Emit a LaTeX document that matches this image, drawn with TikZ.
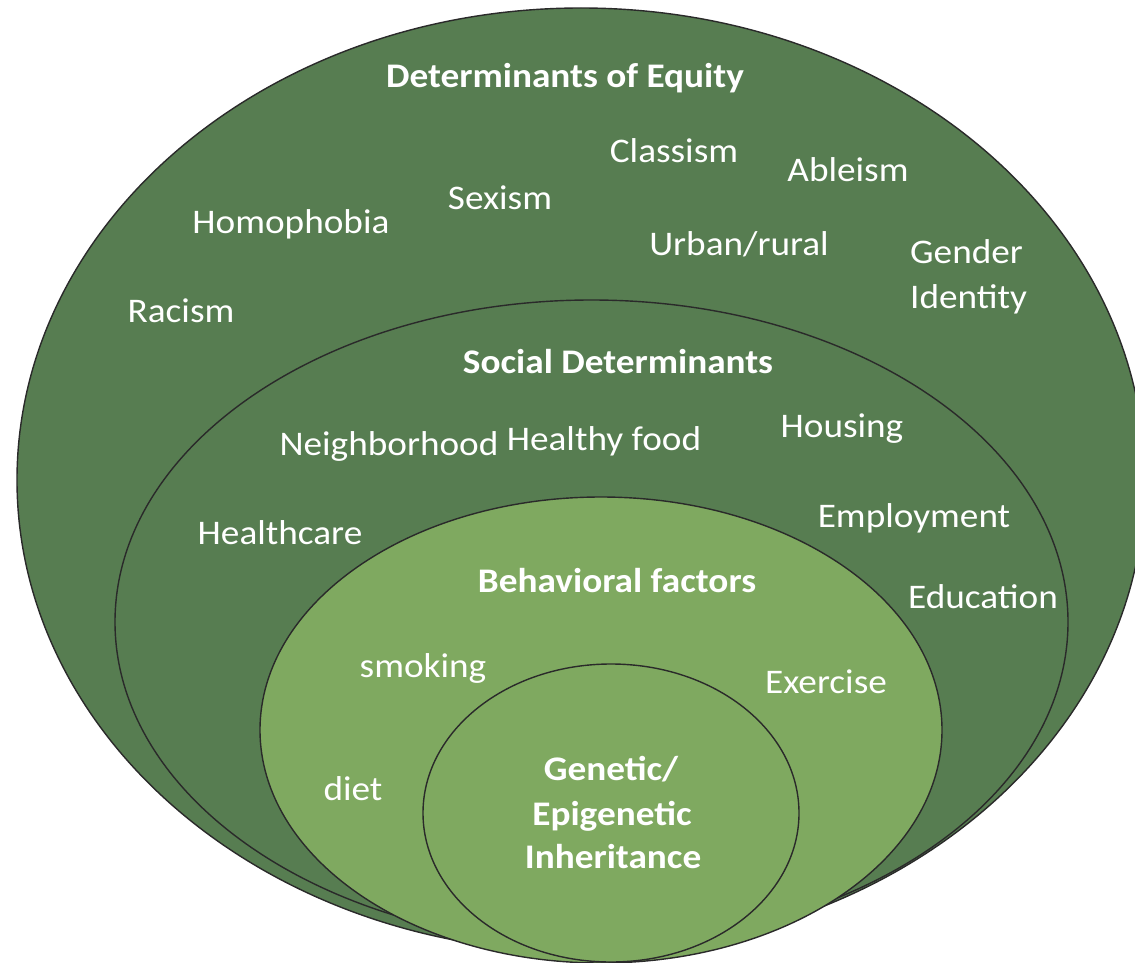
\documentclass[tikz,border=0pt]{standalone}
\usepackage{fontspec}
\setmainfont{Carlito}[FakeStretch=1.08]
\definecolor{darkg}{HTML}{577D51}
\definecolor{lightg}{HTML}{7FA960}
\definecolor{edgec}{HTML}{2A2A2A}
\begin{document}
\begin{tikzpicture}[x=1pt,y=-1pt,
  ring/.style={draw=edgec,line width=1.4pt},
  lbl/.style={text=white,inner sep=0pt,anchor=base,font=\fontsize{34.5}{41}\selectfont},
  lblw/.style={lbl,anchor=base west},
  ttl/.style={lbl,font=\fontsize{34.5}{41}\selectfont\bfseries}]
\useasboundingbox (0,0) rectangle (1135,963);
\clip (0,0) rectangle (1135,963);
\fill[white] (0,0) rectangle (1135,963);
% rings
\draw[ring,fill=darkg] (581,480) ellipse [x radius=564pt,y radius=472pt];
\draw[ring,fill=darkg] (591.5,622) ellipse [x radius=476.5pt,y radius=322pt];
\draw[ring,fill=lightg] (601,730) ellipse [x radius=341pt,y radius=233pt];
\draw[ring,fill=lightg] (611,813) ellipse [x radius=188pt,y radius=149pt];
% outer ring labels
\node[ttl] (equity) at (565,88) {Determinants of Equity};
\node[lbl] (classism) at (674,162) {Classism};
\node[lbl] (ableism) at (848,182) {Ableism};
\node[lbl] (sexism) at (500,209) {Sexism};
\node[lbl] (homophobia) at (291,233) {Homophobia};
\node[lbl] (urban) at (739,255) {Urban/rural};
\node[lblw] (gender) at (910,263) {Gender};
\node[lblw] (identity) at (910,308) {Identity};
\node[lbl] (racism) at (181,322) {Racism};
% social ring labels
\node[ttl] (social) at (618,373) {Social Determinants};
\node[lbl] (neigh) at (389,455) {Neighborhood};
\node[lbl] (food) at (604,450) {Healthy food};
\node[lbl] (housing) at (842,437) {Housing};
\node[lbl] (employment) at (914,527) {Employment};
\node[lbl] (healthcare) at (280,544) {Healthcare};
\node[lbl] (education) at (983,608) {Education};
% behavioral ring labels
\node[ttl] (behav) at (617,592) {Behavioral factors};
\node[lbl] (smoking) at (423,677) {smoking};
\node[lbl] (exercise) at (826,693) {Exercise};
\node[lbl] (diet) at (353,800) {diet};
% core
\node[ttl] (gen1) at (611,780) {Genetic/};
\node[ttl] (gen2) at (612,825) {Epigenetic};
\node[ttl] (gen3) at (613,868) {Inheritance};
\end{tikzpicture}
\end{document}
